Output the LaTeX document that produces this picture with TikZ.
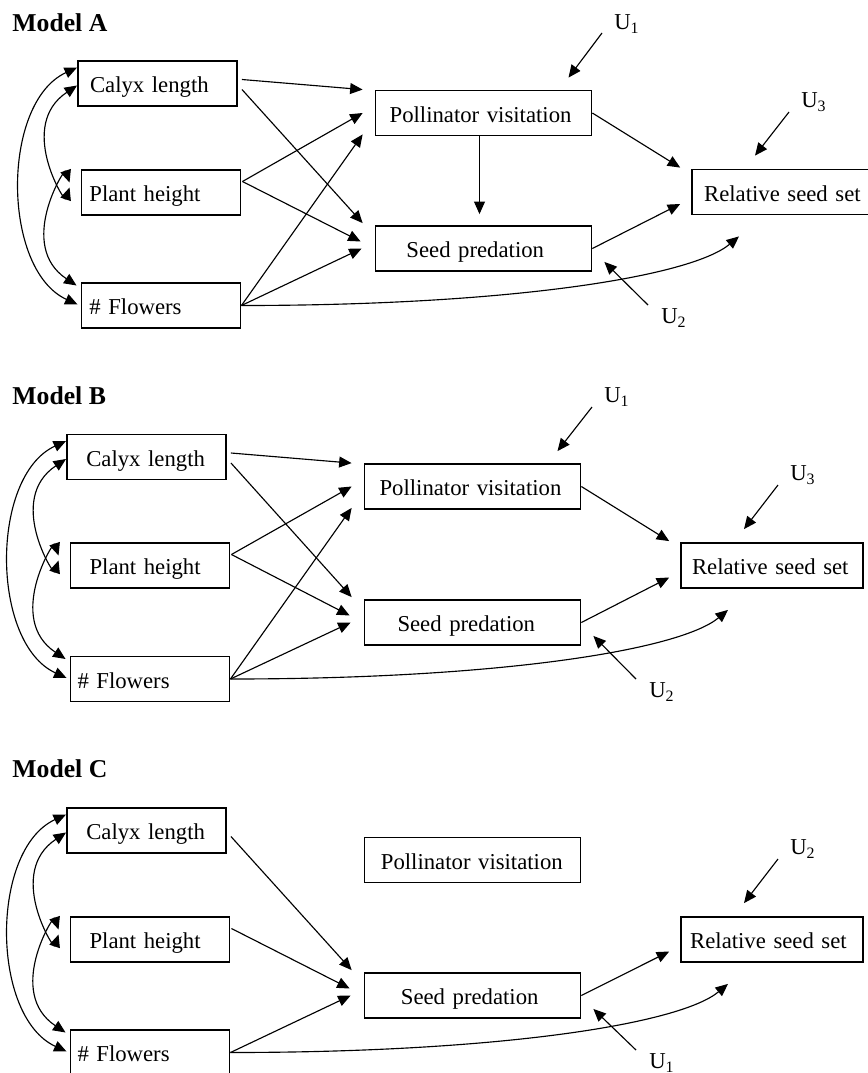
\documentclass[tikz,border=0pt]{standalone}
\usepackage{fontspec}
\setmainfont{Liberation Serif}
\usepackage{tikz}
\usetikzlibrary{arrows.meta,calc}

\tikzset{
  varbox/.style={draw, line width=0.8pt, align=left, inner ysep=0pt, minimum height=19.8pt, text height=9pt, text depth=1pt},
  arr/.style={line width=0.5pt, -{Stealth[inset=0pt,length=5.5pt,width=4.8pt]}},
  corr/.style={line width=0.5pt, {Stealth[inset=0pt,length=5.5pt,width=4.8pt]}-{Stealth[inset=0pt,length=5.5pt,width=4.8pt]}},
  ulab/.style={inner sep=0pt},
  heading/.style={anchor=west, inner sep=0pt, font=\fontsize{11.3}{13}\selectfont\bfseries}
}

\begin{document}
\begin{tikzpicture}[x=0.44pt, y=-0.44pt]
    \useasboundingbox (0,0) rectangle (867,1073) ;

    \node[heading] at (12,23) (headA) {Model A} ;
    \node[varbox, inner xsep=5.3pt, text width=59.4pt] at (157.5,83.5) (calA) {Calyx length} ;
    \node[varbox, inner xsep=3.5pt, text width=63pt] at (161,192.5) (plantA) {Plant height} ;
    \node[varbox, inner xsep=3.5pt, text width=63pt] at (161,305.5) (flowA) {\# Flowers} ;
    \node[varbox, inner xsep=6.2pt, text width=82.6pt] at (483.5,113) (pollA) {Pollinator visitation} ;
    \node[varbox, inner xsep=13.6pt, text width=67.8pt] at (483.5,248.5) (seedA) {Seed predation} ;
    \node[varbox, inner xsep=5.3pt, text width=69.4pt] at (783,192) (relA) {Relative seed set} ;
    \node[ulab] at (627,24) (u1A) {U\textsubscript{1}} ;
    \node[ulab] at (674,318) (u2A) {U\textsubscript{2}} ;
    \node[ulab] at (814,102) (u3A) {U\textsubscript{3}} ;
    \draw[corr] ($(calA.west)+(0,-16)$) .. controls +(-76,35) and +(-76,-35) .. ($(flowA.west)+(-3,-1)$) ;
    \draw[corr] ($(calA.west)+(0,2)$) .. controls +(-60,40) and +(-5,15) .. ($(plantA.west)+(-11,-5)$) ;
    \draw[corr] ($(plantA.west)+(-11,-10)$) .. controls +(-5,-15) and +(-60,-40) .. ($(flowA.west)+(-4,-20)$) ;
    \draw[arr] ($(calA.east)+(4,-4)$) -- ($(pollA.north west)+(-12,0)$) ;
    \draw[arr] ($(calA.east)+(4,6)$) -- ($(seedA.north west)+(-12,-2)$) ;
    \draw[arr] ($(plantA.east)+(1,-11)$) -- ($(pollA.west)+(-12,0)$) ;
    \draw[arr] ($(plantA.east)+(1,-11)$) -- ($(seedA.west)+(-14,-7)$) ;
    \draw[arr] (flowA.east) -- ($(pollA.south west)+(-12,-2)$) ;
    \draw[arr] (flowA.east) -- ($(seedA.west)+(-13,0)$) ;
    \draw[arr] ($(pollA.south)+(-4,0)$) -- ($(seedA.north)+(-4,-11)$) ;
    \draw[arr] (pollA.east) -- ($(relA.north west)+(-11,-1)$) ;
    \draw[arr] (seedA.east) -- ($(relA.west)+(-11,12)$) ;
    \draw[arr] (flowA.east) .. controls +(270,0) and +(-48,40) .. ($(relA.south)+(-44,21)$) ;
    \draw[arr] ($(u1A)+(-25,9)$) -- ($(pollA.north)+(85,-12)$) ;
    \draw[arr] ($(u2A)+(-26,-13)$) -- ($(seedA.south east)+(12,-10)$) ;
    \draw[arr] ($(u3A)+(-25,10)$) -- ($(relA.north)+(-28,-13)$) ;

    \node[heading] at (12,396) (headB) {Model B} ;
    \node[varbox, inner xsep=8.5pt, text width=53pt] at (146.5,457) (calB) {Calyx length} ;
    \node[varbox, inner xsep=8.4pt, text width=53.2pt] at (150,565.5) (plantB) {Plant height} ;
    \node[varbox, inner xsep=3.1pt, text width=63.8pt] at (150,679) (flowB) {\# Flowers} ;
    \node[varbox, inner xsep=6.6pt, text width=81.8pt] at (472.5,486.5) (pollB) {Pollinator visitation} ;
    \node[varbox, inner xsep=14.5pt, text width=66pt] at (472.5,622.5) (seedB) {Seed predation} ;
    \node[varbox, inner xsep=4.8pt, text width=70.4pt] at (772,565.5) (relB) {Relative seed set} ;
    \node[ulab] at (617,397) (u1B) {U\textsubscript{1}} ;
    \node[ulab] at (662,692) (u2B) {U\textsubscript{2}} ;
    \node[ulab] at (803,475) (u3B) {U\textsubscript{3}} ;
    \draw[corr] ($(calB.west)+(0,-16)$) .. controls +(-76,35) and +(-76,-35) .. ($(flowB.west)+(-3,-1)$) ;
    \draw[corr] ($(calB.west)+(0,2)$) .. controls +(-60,40) and +(-5,15) .. ($(plantB.west)+(-11,-5)$) ;
    \draw[corr] ($(plantB.west)+(-11,-10)$) .. controls +(-5,-15) and +(-60,-40) .. ($(flowB.west)+(-4,-20)$) ;
    \draw[arr] ($(calB.east)+(4,-4)$) -- ($(pollB.north west)+(-12,0)$) ;
    \draw[arr] ($(calB.east)+(4,6)$) -- ($(seedB.north west)+(-12,-2)$) ;
    \draw[arr] ($(plantB.east)+(1,-11)$) -- ($(pollB.west)+(-12,0)$) ;
    \draw[arr] ($(plantB.east)+(1,-11)$) -- ($(seedB.west)+(-14,-7)$) ;
    \draw[arr] (flowB.east) -- ($(pollB.south west)+(-12,-2)$) ;
    \draw[arr] (flowB.east) -- ($(seedB.west)+(-13,0)$) ;
    \draw[arr] (pollB.east) -- ($(relB.north west)+(-11,-1)$) ;
    \draw[arr] (seedB.east) -- ($(relB.west)+(-11,12)$) ;
    \draw[arr] (flowB.east) .. controls +(270,0) and +(-48,40) .. ($(relB.south)+(-44,21)$) ;
    \draw[arr] ($(u1B)+(-25,10)$) -- ($(pollB.north)+(85,-12)$) ;
    \draw[arr] ($(u2B)+(-26,-13)$) -- ($(seedB.south east)+(12,-10)$) ;
    \draw[arr] ($(u3B)+(-25,10)$) -- ($(relB.north)+(-28,-13)$) ;

    \node[heading] at (12,769) (headC) {Model C} ;
    \node[varbox, inner xsep=8.5pt, text width=53pt] at (146.5,830.5) (calC) {Calyx length} ;
    \node[varbox, inner xsep=8.4pt, text width=53.2pt] at (150,939.5) (plantC) {Plant height} ;
    \node[varbox, inner xsep=3.1pt, text width=63.8pt] at (150,1052.5) (flowC) {\# Flowers} ;
    \node[varbox, inner xsep=7.2pt, text width=80.6pt] at (472.5,860) (pollC) {Pollinator visitation} ;
    \node[varbox, inner xsep=16pt, text width=63pt] at (472.5,995.5) (seedC) {Seed predation} ;
    \node[varbox, inner xsep=4pt, text width=72pt] at (772,939.5) (relC) {Relative seed set} ;
    \node[ulab] at (662,1063) (u1C) {U\textsubscript{1}} ;
    \node[ulab] at (803,849) (u2C) {U\textsubscript{2}} ;
    \draw[corr] ($(calC.west)+(0,-16)$) .. controls +(-76,35) and +(-76,-35) .. ($(flowC.west)+(-3,-1)$) ;
    \draw[corr] ($(calC.west)+(0,2)$) .. controls +(-60,40) and +(-5,15) .. ($(plantC.west)+(-11,-5)$) ;
    \draw[corr] ($(plantC.west)+(-11,-10)$) .. controls +(-5,-15) and +(-60,-40) .. ($(flowC.west)+(-4,-20)$) ;
    \draw[arr] ($(calC.east)+(4,6)$) -- ($(seedC.north west)+(-12,-2)$) ;
    \draw[arr] ($(plantC.east)+(1,-11)$) -- ($(seedC.west)+(-14,-7)$) ;
    \draw[arr] (flowC.east) -- ($(seedC.west)+(-13,0)$) ;
    \draw[arr] (seedC.east) -- ($(relC.west)+(-11,12)$) ;
    \draw[arr] (flowC.east) .. controls +(270,0) and +(-48,40) .. ($(relC.south)+(-44,21)$) ;
    \draw[arr] ($(u1C)+(-26,-13)$) -- ($(seedC.south east)+(12,-10)$) ;
    \draw[arr] ($(u2C)+(-25,10)$) -- ($(relC.north)+(-28,-13)$) ;
  \end{tikzpicture}
\end{document}
